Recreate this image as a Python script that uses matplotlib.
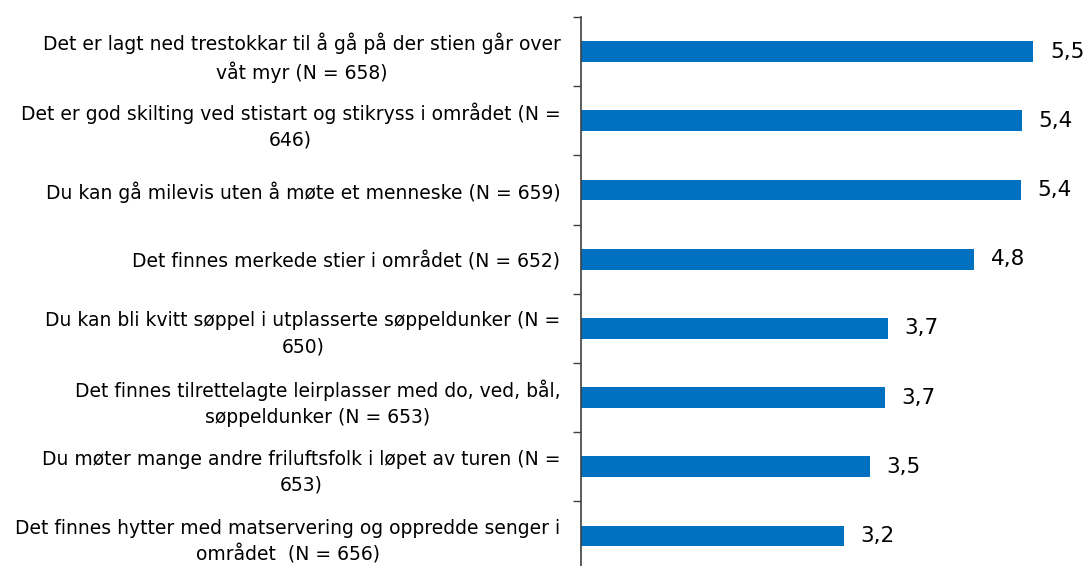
import matplotlib.pyplot as plt
import numpy as np

labels = [
    "Det er lagt ned trestokkar til å gå på der stien går over\nvåt myr (N = 658)",
    "Det er god skilting ved stistart og stikryss i området (N =\n646)",
    "Du kan gå milevis uten å møte et menneske (N = 659)",
    "Det finnes merkede stier i området (N = 652)",
    "Du kan bli kvitt søppel i utplasserte søppeldunker (N =\n650)",
    "Det finnes tilrettelagte leirplasser med do, ved, bål,\nsøppeldunker (N = 653)",
    "Du møter mange andre friluftsfolk i løpet av turen (N =\n653)",
    "Det finnes hytter med matservering og oppredde senger i\nområdet  (N = 656)",
]
values = [5.50, 5.36, 5.35, 4.78, 3.73, 3.69, 3.51, 3.20]
value_labels = ["5,5", "5,4", "5,4", "4,8", "3,7", "3,7", "3,5", "3,2"]

W, H = 1091, 566
fig = plt.figure(figsize=(W / 100, H / 100), dpi=100)
left = 581.3 / W
top = 1 - 17 / H
bottom = 1 - 570.6 / H
ax = fig.add_axes([left, bottom, 1 - left, top - bottom])

y = np.arange(len(values))
ax.barh(y, values, height=0.30, color="#0070C0")
ax.set_ylim(len(values) - 0.5, -0.5)
ax.set_xlim(0, (W - 581.3) / 82.2)

for yi, v, t in zip(y, values, value_labels):
    ax.text(v + 0.2, yi, t, va="center", ha="left", fontsize=15.5, color="#000000")

ax.set_yticks(y)
ax.set_yticklabels(labels, fontsize=13.5, multialignment="center", linespacing=1.45)
ax.tick_params(axis="y", which="major", length=0, pad=15)
ax.set_yticks(np.arange(-0.5, len(values), 1), minor=True)
ax.tick_params(axis="y", which="minor", length=6, width=1, color="#404040")

ax.set_xticks([])
for s in ["top", "right", "bottom"]:
    ax.spines[s].set_visible(False)
ax.spines["left"].set_color("#404040")
ax.spines["left"].set_linewidth(1.2)

fig.savefig("out.png", dpi=100)
